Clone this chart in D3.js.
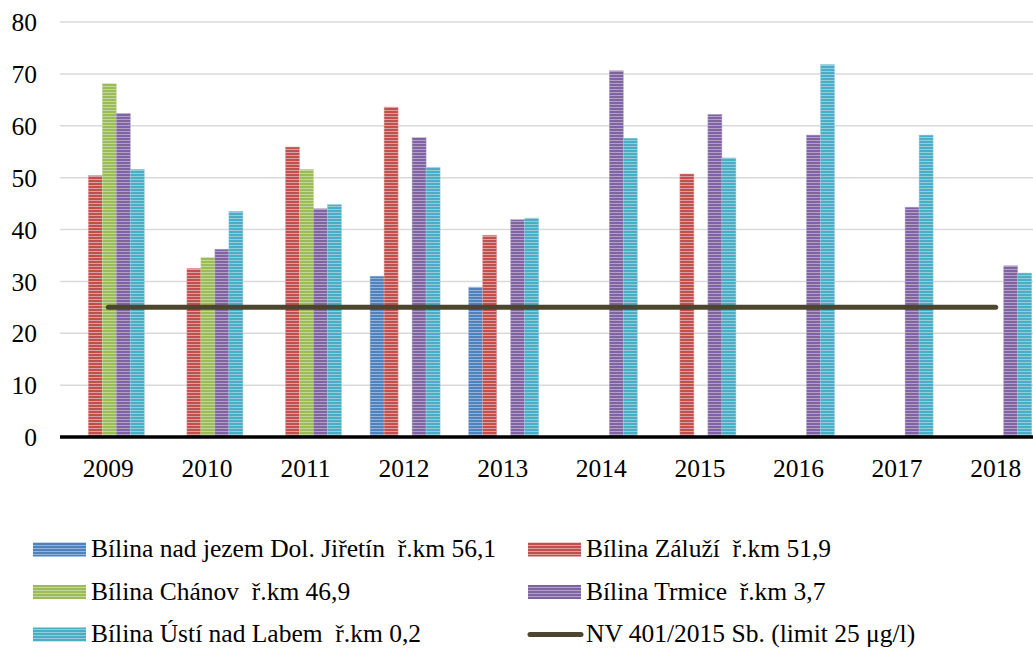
<!DOCTYPE html>
<html>
<head>
<meta charset="utf-8">
<script src="https://cdn.jsdelivr.net/npm/d3@7"></script>
<style>
  html, body { margin: 0; padding: 0; background: #fff; }
  svg { display: block; }
  text { font-family: 'Liberation Serif', 'DejaVu Serif', serif; fill: #000; white-space: pre; }
</style>
</head>
<body>
<svg id="chart" width="1033" height="651"></svg>
<script>
// Years on the x axis
const years = ["2009", "2010", "2011", "2012", "2013", "2014", "2015", "2016", "2017", "2018"];

// Measured concentrations per sampling site (null = not measured)
const jiretin = [null, null, null, 31.0, 28.9, null, null, null, null, null];
const zaluzi  = [50.4, 32.5, 55.9, 63.6, 38.9, null, 50.7, null, null, null];
const chanov  = [68.1, 34.6, 51.6, null, null, null, null, null, null, null];
const trmice  = [62.4, 36.2, 44.0, 57.7, 41.9, 70.6, 62.2, 58.2, 44.3, 33.0];
const usti    = [51.6, 43.5, 44.8, 52.0, 42.2, 57.6, 53.8, 71.8, 58.2, 31.6];

// Limit value line
const limitValue = [25, 25, 25, 25, 25, 25, 25, 25, 25, 25];

const seriesNames = [
  "Bílina nad jezem Dol. Jiřetín  ř.km 56,1",
  "Bílina Záluží  ř.km 51,9",
  "Bílina Chánov  ř.km 46,9",
  "Bílina Trmice  ř.km 3,7",
  "Bílina Ústí nad Labem  ř.km 0,2"
];
const limitName = "NV 401/2015 Sb. (limit 25 μg/l)";

const yTicks = [0, 10, 20, 30, 40, 50, 60, 70, 80];

const seriesValues = [jiretin, zaluzi, chanov, trmice, usti];
const colors = ["#4f81bd", "#c0504d", "#9bbb59", "#8064a2", "#4bacc6"];
const lightColors = ["#95b3d7", "#dc9f9d", "#c4d79b", "#b1a0c7", "#92cddc"];

const FONT = "'Liberation Serif', 'DejaVu Serif', serif";
const FS = 25.5;
const svg = d3.select("#chart");

// Striped fills for the bars
const defs = svg.append("defs");
colors.forEach((c, i) => {
  const p = defs.append("pattern")
    .attr("id", "stripe" + i)
    .attr("patternUnits", "userSpaceOnUse")
    .attr("width", 8).attr("height", 3);
  p.append("rect").attr("width", 8).attr("height", 3).attr("fill", c);
  p.append("rect").attr("y", 2).attr("width", 8).attr("height", 1).attr("fill", lightColors[i]);
});

const plotLeft = 60, plotRight = 1046, plotTop = 22, plotBottom = 437;

const x = d3.scaleBand().domain(years).range([plotLeft, plotRight]).padding(0);
const y = d3.scaleLinear().domain([0, 80]).range([plotBottom, plotTop]);
const barW = 14;
const inner = d3.scaleBand().domain(d3.range(5)).range([-2.5 * barW, 2.5 * barW]).padding(0);

// Gridlines
svg.append("g").selectAll("line")
  .data(yTicks.filter(t => t > 0))
  .join("line")
  .attr("x1", plotLeft).attr("x2", 1033)
  .attr("y1", d => y(d)).attr("y2", d => y(d))
  .attr("stroke", "#d9d9d9").attr("stroke-width", 1.5);

// Y axis tick labels
const yAxis = d3.axisLeft(y).tickValues(yTicks).tickSize(0).tickPadding(0);
const gy = svg.append("g").attr("transform", "translate(37,0)").call(yAxis);
gy.attr("font-family", FONT).attr("font-size", FS);
gy.select(".domain").remove();
gy.selectAll("text").attr("fill", "#000").attr("dy", "0.34em");

// Bars
seriesValues.forEach((vals, s) => {
  svg.append("g").selectAll("rect")
    .data(years.map((yr, i) => ({ yr, v: vals[i] })).filter(d => d.v !== null))
    .join("rect")
    .attr("x", d => x(d.yr) + x.bandwidth() / 2 + inner(s))
    .attr("y", d => y(d.v))
    .attr("width", inner.bandwidth())
    .attr("height", d => y(0) - y(d.v))
    .attr("fill", "url(#stripe" + s + ")")
    .attr("stroke", lightColors[s]).attr("stroke-width", 0.6).attr("stroke-opacity", 0.8);
});

// X axis baseline and labels
svg.append("line")
  .attr("x1", plotLeft).attr("x2", 1033)
  .attr("y1", y(0)).attr("y2", y(0))
  .attr("stroke", "#000").attr("stroke-width", 3.3);

const xAxis = d3.axisBottom(x).tickSize(0).tickPadding(0);
const gx = svg.append("g").attr("transform", "translate(-1,0)").call(xAxis);
gx.attr("font-family", FONT).attr("font-size", FS);
gx.select(".domain").remove();
gx.selectAll("text").attr("fill", "#000").attr("y", 477).attr("dy", 0);

// Limit line
const line = d3.line()
  .x((d, i) => x(years[i]) + x.bandwidth() / 2 - 1)
  .y(d => y(d));
svg.append("path")
  .datum(limitValue)
  .attr("d", line)
  .attr("fill", "none")
  .attr("stroke", "#4d462e").attr("stroke-width", 5)
  .attr("stroke-linecap", "round");

// Legend
const legendItems = [
  { name: seriesNames[0], s: 0, x: 33, y: 549.5, base: 557 },
  { name: seriesNames[1], s: 1, x: 528, y: 549.5, base: 557 },
  { name: seriesNames[2], s: 2, x: 33, y: 592, base: 599.5 },
  { name: seriesNames[3], s: 3, x: 528, y: 592, base: 599.5 },
  { name: seriesNames[4], s: 4, x: 33, y: 634.5, base: 642 },
  { name: limitName, s: -1, x: 528, y: 634.5, base: 642 }
];
const lg = svg.append("g").attr("font-family", FONT).attr("font-size", FS);
legendItems.forEach(it => {
  if (it.s >= 0) {
    lg.append("rect")
      .attr("x", it.x).attr("y", it.y - 7)
      .attr("width", 53).attr("height", 14)
      .attr("fill", "url(#stripe" + it.s + ")");
  } else {
    lg.append("line")
      .attr("x1", it.x + 2).attr("x2", it.x + 53)
      .attr("y1", it.y).attr("y2", it.y)
      .attr("stroke", "#4d462e").attr("stroke-width", 5)
      .attr("stroke-linecap", "round");
  }
  lg.append("text")
    .attr("x", it.x + 58).attr("y", it.base)
    .text(it.name);
});
</script>
</body>
</html>
